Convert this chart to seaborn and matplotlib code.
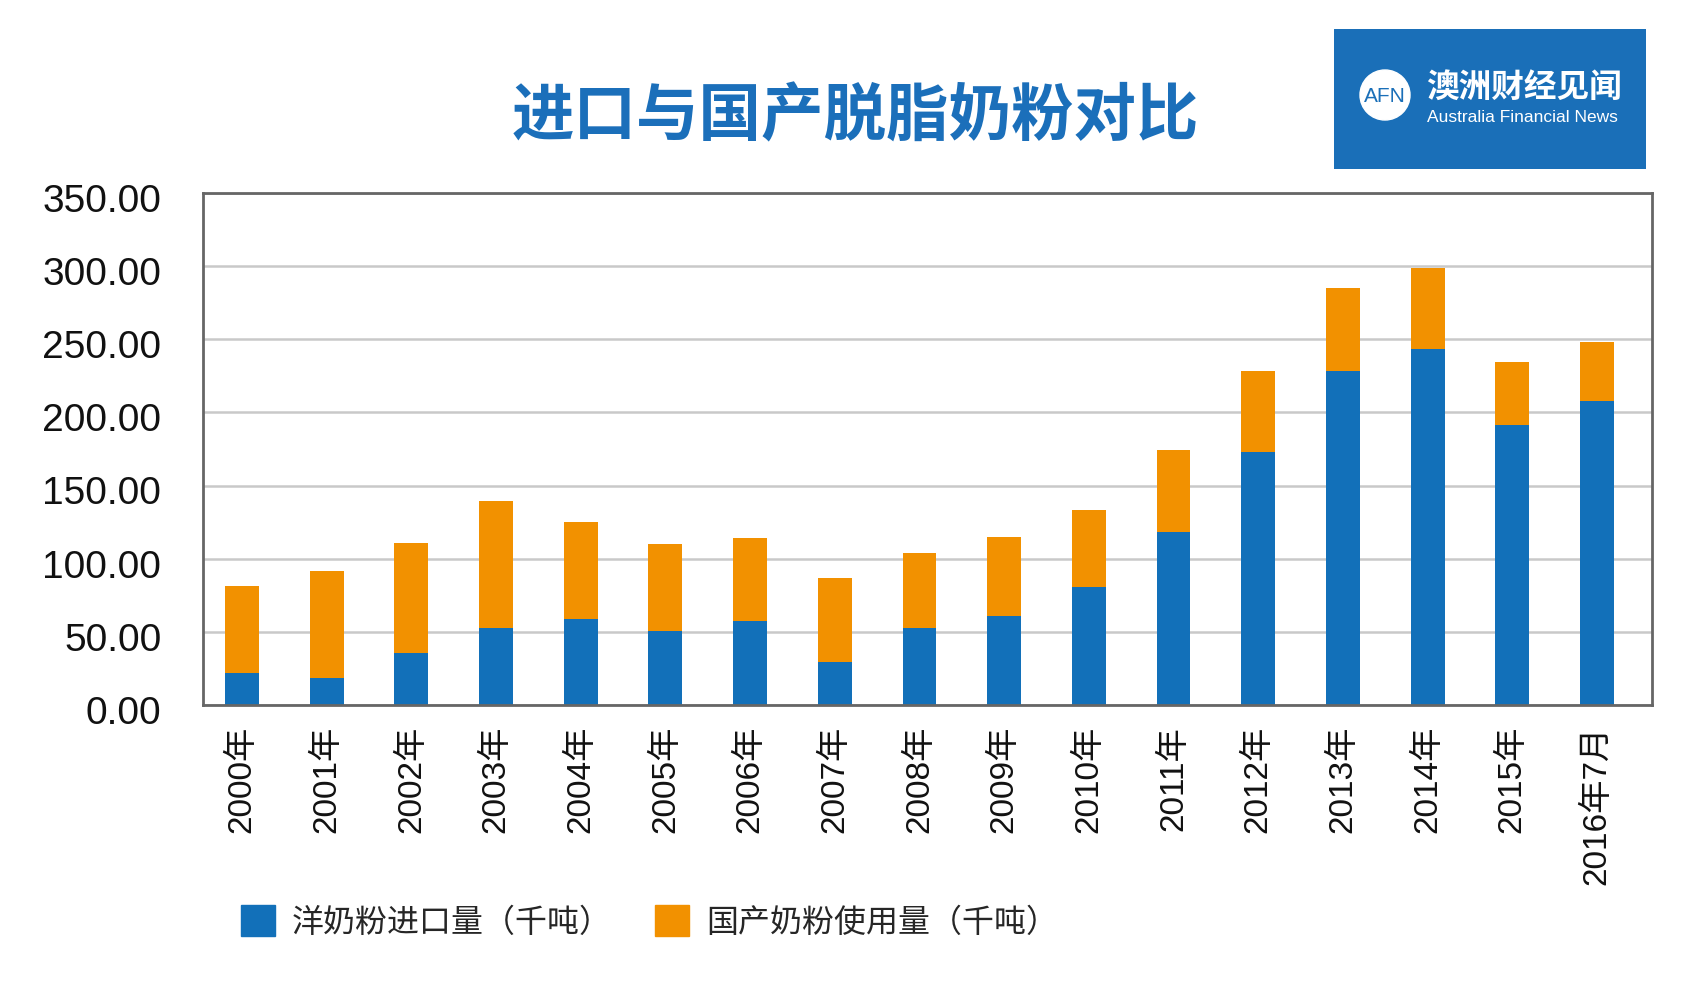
import numpy as np
import pandas as pd
import matplotlib.pyplot as plt
import matplotlib.patches as mpatches
from matplotlib.transforms import ScaledTranslation
import seaborn as sns

# Daten (Tausend Tonnen)
jahre = ["2000年", "2001年", "2002年", "2003年", "2004年", "2005年", "2006年",
         "2007年", "2008年", "2009年", "2010年", "2011年", "2012年", "2013年",
         "2014年", "2015年", "2016年7月"]
import_menge = [21.9, 18.6, 35.6, 52.3, 58.9, 50.4, 57.7, 29.7, 52.7,
                60.5, 80.7, 118.6, 173.2, 228.2, 243.6, 191.4, 208.0]
inland_menge = [59.5, 73.0, 75.0, 87.0, 66.1, 59.5, 56.2, 56.9, 51.0,
                54.6, 52.9, 55.7, 54.8, 57.1, 55.2, 43.4, 40.3]
y_ticks = [0, 50, 100, 150, 200, 250, 300, 350]

label_import = "洋奶粉进口量（千吨）"
label_inland = "国产奶粉使用量（千吨）"
titel = "进口与国产脱脂奶粉对比"

blau = "#1270b9"
orange = "#f29100"

sns.set_style("white")
plt.rcParams["font.family"] = ["Liberation Sans", "Noto Sans CJK SC", "DejaVu Sans"]

df = pd.DataFrame({"Jahr": jahre, "Import": import_menge, "Inland": inland_menge})
df["Gesamt"] = df["Import"] + df["Inland"]

W, H = 1703, 1006
fig = plt.figure(figsize=(W / 100, H / 100), dpi=100)
ax = fig.add_axes([203 / W, 1 - 705 / H, (1652 - 203) / W, (705 - 193) / H])

# gestapelt: erst Gesamt (orange), dann Import (blau) drüber
sns.barplot(data=df, x="Jahr", y="Gesamt", color=orange, width=0.4,
            saturation=1, linewidth=0, ax=ax)
sns.barplot(data=df, x="Jahr", y="Import", color=blau, width=0.4,
            saturation=1, linewidth=0, ax=ax)

ax.set_xlim(-0.46, 16.65)
ax.set_ylim(0, 350)
ax.set_yticks(y_ticks)
ax.set_yticklabels([f"{v:.2f}" for v in y_ticks])
ax.set_xlabel("")
ax.set_ylabel("")
ax.grid(axis="y", color="#c9c9c9", lw=1.8)
ax.set_axisbelow(True)
for s in ax.spines.values():
    s.set_visible(True)
    s.set_color("#666666")
    s.set_linewidth(2)
ax.tick_params(axis="y", length=0, pad=30, labelsize=28, colors="#111111")
ax.tick_params(axis="x", length=0, pad=15, labelsize=24, labelrotation=90,
               colors="#111111")

# y-Beschriftungen sitzen im Original etwas unter den Gitterlinien
verschiebung = ScaledTranslation(0, -3.5 / 72, fig.dpi_scale_trans)
for lab in ax.get_yticklabels():
    lab.set_transform(lab.get_transform() + verschiebung)

# Titel
fig.text(855 / W, 1 - 117 / H, titel, ha="center", va="center",
         fontsize=45, fontweight="bold", color="#1b6fba",
         family=["Noto Sans CJK SC", "DejaVu Sans"])

# Legende
handles = [mpatches.Patch(color=blau, label=label_import),
           mpatches.Patch(color=orange, label=label_inland)]
fig.legend(handles=handles, loc="center left",
           bbox_to_anchor=(241 / W, 1 - 922 / H), ncol=2, frameon=False,
           handlelength=1.05, handleheight=1.1,
           handletextpad=0.55, columnspacing=1.35, borderpad=0,
           borderaxespad=0, prop={"family": ["Noto Sans CJK SC"], "size": 23})

# Logo oben rechts
lx, ly, lw, lh = 1334, 29, 312, 140
logo = fig.add_axes([lx / W, 1 - (ly + lh) / H, lw / W, lh / H])
logo.set_xlim(0, lw)
logo.set_ylim(0, lh)
logo.axis("off")
logo.add_patch(mpatches.Rectangle((0, 0), lw, lh, color="#1a6fb8"))
logo.add_patch(mpatches.Circle((51, 74), 25, color="white"))
logo.text(51, 73, "AFN", ha="center", va="center", fontsize=15,
          color="#1a6fb8")
logo.text(92, 82, "澳洲财经见闻", ha="left", va="center", fontsize=23.5,
          color="white", fontweight="bold", family=["Noto Sans CJK SC"])
logo.text(93, 52, "Australia Financial News", ha="left", va="center",
          fontsize=12.5, color="white")

plt.savefig("out.png", dpi=100)
